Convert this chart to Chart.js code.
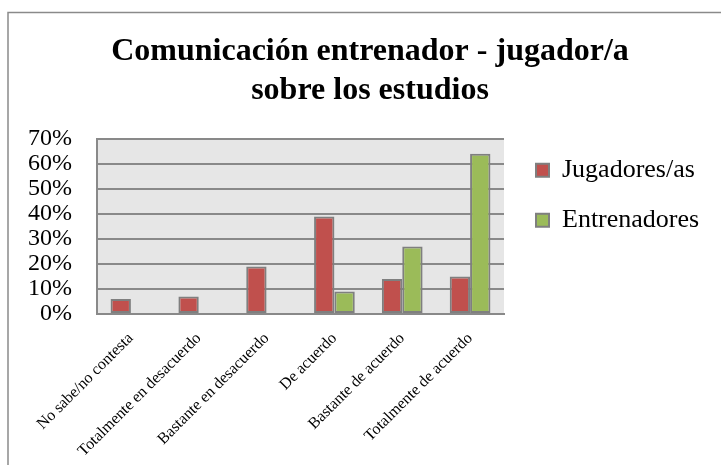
<!DOCTYPE html>
<html>
<head>
<meta charset="utf-8">
<script src="https://cdn.jsdelivr.net/npm/chart.js@4"></script>
<style>
  html, body { margin: 0; padding: 0; overflow: hidden; background: #ffffff; }
  #wrap { width: 730px; height: 470px; }
</style>
</head>
<body>
<div id="wrap"><canvas id="chart" width="730" height="470"></canvas></div>
<script>
// Survey answers and share of each group (percent)
const categories = [
  'No sabe/no contesta',
  'Totalmente en desacuerdo',
  'Bastante en desacuerdo',
  'De acuerdo',
  'Bastante de acuerdo',
  'Totalmente de acuerdo'
];
const jugadores = [6, 7, 19, 39, 14, 15];
const entrenadores = [0, 0, 0, 9, 27, 64];
const seriesNames = ['Jugadores/as', 'Entrenadores'];
const titleLines = ['Comunicación entrenador - jugador/a', 'sobre los estudios'];

const serif = '"Liberation Serif", "Times New Roman", serif';
const lineGrey = '#898989';
const frame = { left: 8, top: 12.5, right: 732 };

// White page, outer frame and grey plot background
const backdrop = {
  id: 'backdrop',
  beforeDraw(chart) {
    const { ctx, chartArea: a } = chart;
    ctx.save();
    ctx.fillStyle = '#ffffff';
    ctx.fillRect(0, 0, chart.width, chart.height);
    ctx.strokeStyle = '#8a8a8a';
    ctx.lineWidth = 1.5;
    ctx.strokeRect(frame.left, frame.top, frame.right - frame.left, chart.height);
    ctx.fillStyle = '#e6e6e6';
    ctx.fillRect(a.left, a.top, a.right - a.left, a.bottom - a.top);
    ctx.restore();
  }
};

// Centre the title over the card and set the legend a little away from the plot
const placement = {
  id: 'placement',
  afterLayout(chart) {
    const a = chart.chartArea;
    const l = chart.legend;
    if (l) {
      l.left = a.right + 8;
      l.right = chart.width;
      l.top = a.top - 5.5;
      l.bottom = a.bottom - 5.5;
    }
    const t = chart.titleBlock;
    if (t) {
      const shift = (frame.left + frame.right) / 2 - (t.left + t.right) / 2;
      t.left += shift;
      t.right += shift;
    }
  }
};

new Chart(document.getElementById('chart'), {
  type: 'bar',
  data: {
    labels: categories,
    datasets: [
      {
        label: seriesNames[0],
        data: jugadores,
        backgroundColor: '#c0504d',
        borderColor: '#7f7f7f',
        borderWidth: 2,
        borderSkipped: false
      },
      {
        label: seriesNames[1],
        data: entrenadores,
        backgroundColor: '#9bbb59',
        borderColor: '#7f7f7f',
        borderWidth: 2,
        borderSkipped: false
      }
    ]
  },
  options: {
    responsive: false,
    animation: false,
    devicePixelRatio: 1,
    categoryPercentage: 0.6,
    barPercentage: 1,
    layout: { padding: { left: 10, right: 76, top: 14, bottom: 0 } },
    plugins: {
      title: {
        display: true,
        text: titleLines,
        color: '#000000',
        font: { family: serif, size: 32, weight: 'bold', lineHeight: 1.2 },
        padding: { top: 19, bottom: 29 }
      },
      legend: {
        position: 'right',
        align: 'start',
        fullSize: false,
        maxWidth: 150,
        labels: {
          color: '#000000',
          font: { family: serif, size: 26 },
          boxWidth: 13,
          boxHeight: 13,
          padding: 24
        }
      },
      tooltip: { enabled: false }
    },
    scales: {
      x: {
        grid: { display: false, drawTicks: false },
        border: { display: true, color: lineGrey, width: 2 },
        ticks: {
          color: '#000000',
          font: { family: serif, size: 16 },
          minRotation: 45,
          maxRotation: 45,
          autoSkip: false,
          padding: 15
        },
        afterFit(scale) { scale.height = 156; }
      },
      y: {
        min: 0,
        max: 70,
        grid: { color: lineGrey, lineWidth: 2, drawTicks: false },
        border: { display: true, color: lineGrey, width: 2 },
        ticks: {
          stepSize: 10,
          autoSkip: false,
          color: '#000000',
          font: { family: serif, size: 24 },
          padding: 25,
          callback: v => v + '%'
        },
        afterFit(scale) { scale.width = 87; }
      }
    }
  },
  plugins: [backdrop, placement]
});
</script>
</body>
</html>
